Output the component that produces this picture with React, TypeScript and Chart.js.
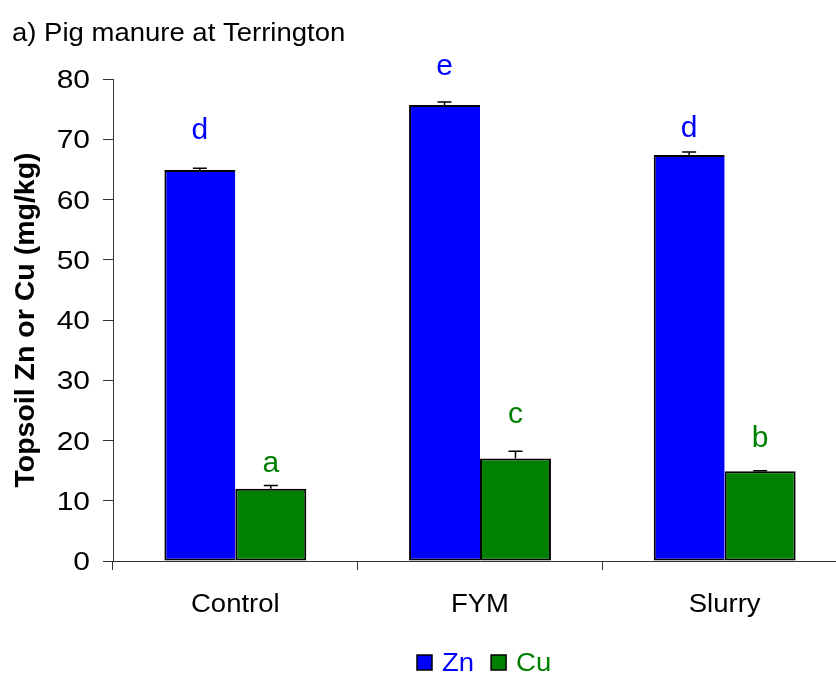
import { useEffect, useRef } from 'react';
import { Chart, registerables } from 'chart.js';

Chart.register(...registerables);

// Treatments and measured topsoil concentrations (mg/kg)
const categories = ['Control', 'FYM', 'Slurry'];
const seriesNames = ['Zn', 'Cu'];
const znValues = [64.9, 75.7, 67.4];
const cuValues = [12.0, 17.0, 14.9];
// Standard errors (upper whisker only)
const znErrors = [0.3, 0.5, 0.5];
const cuErrors = [0.55, 1.2, 0.1];
// Significance letters and the height (in mg/kg) of their baselines
const znLetters = ['d', 'e', 'd'];
const cuLetters = ['a', 'c', 'b'];
const znLetterHeights = [70.0, 80.7, 70.3];
const cuLetterHeights = [14.8, 22.9, 18.9];

const TITLE = 'a) Pig manure at Terrington';
const Y_TITLE = 'Topsoil Zn or Cu (mg/kg)';

const FONT = '"Liberation Sans", Arial, Helvetica, sans-serif';
const ZN_COLOR = '#0000FF';
const CU_COLOR = '#008000';
const AXIS = '#333333';

const seriesColors = [ZN_COLOR, CU_COLOR];
const seriesErrors = [znErrors, cuErrors];
const seriesLetters = [znLetters, cuLetters];
const seriesLetterHeights = [znLetterHeights, cuLetterHeights];

function drawText(
  ctx: CanvasRenderingContext2D,
  text: string,
  x: number,
  y: number,
  size: number,
  color: string,
  sx: number,
  align: CanvasTextAlign,
) {
  ctx.save();
  ctx.font = `${size}px ${FONT}`;
  ctx.fillStyle = color;
  ctx.textAlign = align;
  ctx.textBaseline = 'alphabetic';
  ctx.translate(x, y);
  ctx.scale(sx, 1);
  ctx.fillText(text, 0, 0);
  ctx.restore();
}

const decorations = {
  id: 'decorations',
  afterDatasetsDraw(chart: any) {
    const ctx: CanvasRenderingContext2D = chart.ctx;
    const y = chart.scales.y;
    // error bars
    ctx.save();
    ctx.strokeStyle = '#000';
    ctx.lineWidth = 1.5;
    chart.data.datasets.forEach((ds: any, di: number) => {
      const meta = chart.getDatasetMeta(di);
      meta.data.forEach((bar: any, i: number) => {
        const v = ds.data[i] as number;
        const top = y.getPixelForValue(v + seriesErrors[di][i]);
        const base = y.getPixelForValue(v);
        ctx.beginPath();
        ctx.moveTo(bar.x, base);
        ctx.lineTo(bar.x, top);
        ctx.moveTo(bar.x - 7, top);
        ctx.lineTo(bar.x + 7, top);
        ctx.stroke();
      });
    });
    ctx.restore();
  },
  afterDraw(chart: any) {
    const ctx: CanvasRenderingContext2D = chart.ctx;
    const x = chart.scales.x;
    const y = chart.scales.y;

    // title
    drawText(ctx, TITLE, 12, 40.5, 25, '#000', 1.1, 'left');

    // y tick labels
    y.ticks.forEach((t: any) => {
      const py = y.getPixelForValue(t.value);
      drawText(ctx, String(t.value), 90, py + 9, 25, '#000', 1.2, 'right');
    });

    // category labels
    (chart.data.labels as string[]).forEach((lab, i) => {
      drawText(ctx, lab, x.getPixelForValue(i), 612, 25, '#000', 1.1, 'center');
    });

    // significance letters
    chart.data.datasets.forEach((_ds: any, di: number) => {
      const meta = chart.getDatasetMeta(di);
      meta.data.forEach((bar: any, i: number) => {
        drawText(
          ctx,
          seriesLetters[di][i],
          bar.x,
          y.getPixelForValue(seriesLetterHeights[di][i]),
          30,
          seriesColors[di],
          1.0,
          'center',
        );
      });
    });

    // legend
    let lx = 417;
    const top = 655;
    const box = 15;
    chart.data.datasets.forEach((ds: any, di: number) => {
      ctx.save();
      ctx.fillStyle = seriesColors[di];
      ctx.fillRect(lx, top, box, box);
      ctx.strokeStyle = '#000';
      ctx.lineWidth = 1.5;
      ctx.strokeRect(lx, top, box, box);
      ctx.font = `25px ${FONT}`;
      const w = ctx.measureText(ds.label).width * 1.1;
      ctx.restore();
      drawText(ctx, ds.label, lx + box + 10, top + 16, 25, seriesColors[di], 1.1, 'left');
      lx += box + 10 + w + 17;
    });
  },
};

export default function App() {
  const ref = useRef<HTMLCanvasElement>(null);

  useEffect(() => {
    const canvas = ref.current;
    if (!canvas) return;
    const chart = new Chart(canvas, {
      type: 'bar',
      data: {
        labels: categories,
        datasets: [
          {
            label: seriesNames[0],
            data: znValues,
            backgroundColor: ZN_COLOR,
            borderColor: '#000',
            borderWidth: 2,
            borderSkipped: 'right',
          },
          {
            label: seriesNames[1],
            data: cuValues,
            backgroundColor: CU_COLOR,
            borderColor: '#000',
            borderWidth: 2,
            borderSkipped: false,
          },
        ],
      },
      options: {
        responsive: false,
        animation: false,
        devicePixelRatio: 1,
        layout: { padding: { top: 79, right: 5, bottom: 0, left: 0 } },
        datasets: { bar: { categoryPercentage: 0.58, barPercentage: 1 } },
        plugins: {
          legend: { display: false },
          title: { display: false },
          tooltip: { enabled: false },
        },
        scales: {
          x: {
            offset: true,
            grid: {
              offset: true,
              drawOnChartArea: false,
              drawTicks: true,
              tickLength: 9,
              color: AXIS,
              lineWidth: 1,
            },
            border: { color: AXIS, width: 1 },
            ticks: { display: false },
            afterFit: (s: any) => {
              s.height = 112;
            },
          },
          y: {
            min: 0,
            max: 80,
            ticks: { stepSize: 10, display: false },
            grid: { drawOnChartArea: false, drawTicks: true, tickLength: 10, color: AXIS, lineWidth: 1 },
            border: { color: AXIS, width: 1 },
            title: {
              display: true,
              text: Y_TITLE,
              color: '#000',
              font: { family: FONT, size: 28.5, weight: 'bold' },
              padding: { top: 9, bottom: 0 },
            },
            afterFit: (s: any) => {
              s.width = 113;
            },
          },
        },
      },
      plugins: [decorations],
    });
    return () => chart.destroy();
  }, []);

  return (
    <div
      style={{
        position: 'fixed',
        left: 0,
        top: 0,
        width: 836,
        height: 673,
        overflow: 'hidden',
        background: '#fff',
      }}
    >
      <canvas ref={ref} width={852} height={673} style={{ display: 'block' }} />
    </div>
  );
}
